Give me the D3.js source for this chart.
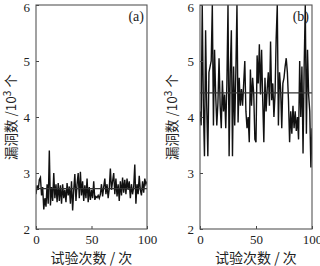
<!DOCTYPE html>
<html><head><meta charset="utf-8">
<script src="https://cdn.jsdelivr.net/npm/d3@7"></script>
<style>
body{margin:0;background:#fff;}
svg{display:block;}
.tick text{font-family:"Liberation Serif","Times New Roman",serif;font-size:13px;fill:#222;}
</style></head><body>
<svg id="c" width="320" height="266"></svg>
<script>
const trialsA = [2.62,2.78,2.70,2.88,2.92,2.60,2.75,2.35,2.55,2.40,
2.80,2.45,3.40,2.42,2.75,2.50,3.00,2.55,2.80,2.48,
2.82,2.50,2.78,2.45,2.80,2.55,2.70,2.48,2.82,2.60,
2.76,2.45,2.85,2.33,2.70,2.98,2.50,2.80,3.00,2.55,
3.02,2.60,2.85,2.50,2.78,2.55,2.90,2.48,2.75,2.52,
2.70,2.55,2.85,2.52,2.58,2.56,2.60,2.55,2.62,2.80,
2.58,2.75,2.90,2.62,2.80,2.55,2.72,3.08,2.70,2.85,
3.00,2.62,2.90,2.58,2.80,2.50,2.85,2.60,2.92,2.65,
2.88,2.62,2.90,2.70,2.85,2.55,2.80,2.62,2.75,3.15,
2.45,2.80,2.62,2.95,2.70,2.60,2.85,2.65,2.90,2.80,2.85];
const trialsB = [4.10,3.85,6.00,4.20,3.30,5.55,4.20,3.30,4.80,4.90,
5.00,6.00,3.85,5.20,4.40,3.85,4.25,5.05,4.20,3.80,
4.65,4.10,4.40,3.80,4.60,6.00,3.30,4.80,5.55,3.30,
4.90,3.85,4.80,6.00,3.90,4.70,4.20,4.50,4.20,4.60,
5.00,4.10,3.80,4.00,3.55,4.85,4.20,4.70,4.40,3.60,
3.55,5.10,4.60,5.30,4.40,5.20,4.30,3.55,4.70,4.10,
4.50,4.80,4.20,5.35,4.30,4.60,4.00,4.40,5.40,6.00,
3.85,4.80,4.50,3.80,4.60,4.70,4.90,5.05,4.80,4.30,
3.55,4.10,3.70,4.20,3.80,4.10,3.75,4.00,3.60,5.00,
4.00,4.90,3.35,4.90,6.00,3.70,5.20,4.40,4.10,3.10,3.80];
const meanA = 2.72;
const meanB = 4.43;
const xTicks = [0,50,100];
const yTicks = [2,3,4,5,6];
const panelLabels = ["(a)","(b)"];
const xTitle = "试验次数 / 次";

const svg = d3.select("#c");
const panels = [
  {data:trialsA, mean:meanA, label:panelLabels[0], x0:36, x1:147, tx:16},
  {data:trialsB, mean:meanB, label:panelLabels[1], x0:200, x1:312, tx:177}
];
const yTop = 5, yBot = 229;

panels.forEach(p => {
  const x = d3.scaleLinear().domain([0,100]).range([p.x0,p.x1]);
  const y = d3.scaleLinear().domain([2,6]).range([yBot,yTop]);
  const g = svg.append("g");
  const clipId = "clip"+p.label.replace(/\W/g,"");
  svg.append("clipPath").attr("id",clipId).append("rect")
    .attr("x",p.x0).attr("y",yTop).attr("width",p.x1-p.x0).attr("height",yBot-yTop);

  const line = d3.line().x((d,i)=>x(i)).y(d=>y(d));
  g.append("path").datum(p.data).attr("d",line)
    .attr("clip-path",`url(#${clipId})`)
    .attr("fill","none").attr("stroke","#111").attr("stroke-width",1.4)
    .attr("stroke-linejoin","miter");
  g.append("line").attr("x1",p.x0).attr("x2",p.x1)
    .attr("y1",y(p.mean)).attr("y2",y(p.mean))
    .attr("stroke","#333").attr("stroke-width",1.2);

  const ax = g.append("g").attr("transform",`translate(0,${yBot})`)
    .call(d3.axisBottom(x).tickValues(xTicks).tickFormat(d3.format("d")).tickSizeInner(-3).tickSizeOuter(0).tickPadding(6));
  const ay = g.append("g").attr("transform",`translate(${p.x0},0)`)
    .call(d3.axisLeft(y).tickValues(yTicks).tickFormat(d3.format("d")).tickSizeInner(-3).tickSizeOuter(0).tickPadding(6));
  [ax,ay].forEach(a=>{a.select(".domain").remove(); a.selectAll(".tick line").attr("stroke","#444");});
  ay.selectAll(".tick text").attr("dy","0.32em");
  ay.selectAll(".tick").filter(d=>d===6).select("text").attr("dy","0.5em");

  g.append("rect").attr("x",p.x0).attr("y",yTop).attr("width",p.x1-p.x0).attr("height",yBot-yTop)
    .attr("fill","none").attr("stroke","#555").attr("stroke-width",1.1);

  g.append("text").attr("x",p.x1-3).attr("y",21).attr("text-anchor","end")
    .attr("font-family","Liberation Serif, serif").attr("font-size",14).attr("fill","#222")
    .text(p.label);

  g.append("text").attr("x",(p.x0+p.x1)/2).attr("y",263).attr("text-anchor","middle")
    .attr("font-family","Noto Sans CJK SC, sans-serif").attr("font-size",14).attr("fill","#222")
    .text(xTitle);

  const yt = g.append("text").attr("transform",`translate(${p.tx},${(yTop+yBot)/2}) rotate(-90)`)
    .attr("text-anchor","middle").attr("font-size",13.5).attr("fill","#222")
    .attr("font-family","Noto Sans CJK SC, sans-serif");
  yt.append("tspan").text("漏洞数 /10");
  yt.append("tspan").attr("dy",-5).attr("font-size",10).text("3");
  yt.append("tspan").attr("dy",5).text(" 个");
});
</script></body></html>
